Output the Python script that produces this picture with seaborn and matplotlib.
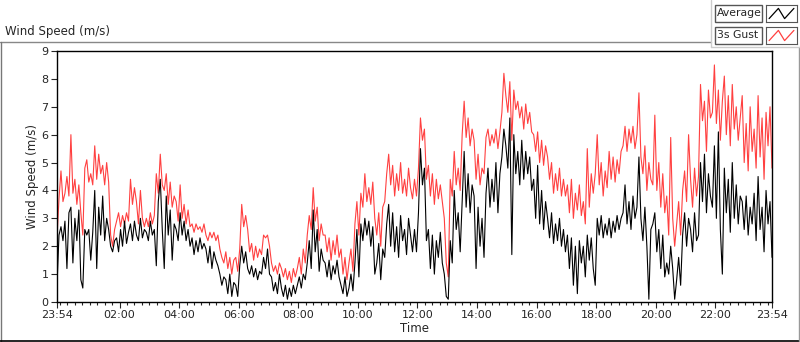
import numpy as np
import pandas as pd
import seaborn as sns
import matplotlib.pyplot as plt
from matplotlib.lines import Line2D
from matplotlib.patches import Rectangle

# 3s gust and average wind speed (m/s), one reading every 4 minutes from 23:54
# (15 readings per row = one hour)
gust = [
    2.3, 3.7, 4.7, 3.6, 3.9, 4.5, 3.8, 6.0, 3.9, 4.4, 3.5, 4.2, 3.2, 2.4, 4.8,
    5.1, 4.3, 4.6, 4.2, 5.6, 4.4, 5.3, 4.6, 4.9, 4.2, 5.0, 4.3, 2.4, 2.0, 2.6,
    2.9, 3.2, 2.7, 3.1, 2.8, 3.2, 2.9, 4.4, 3.5, 4.1, 3.6, 2.8, 4.0, 3.0, 2.7,
    3.0, 2.7, 3.2, 2.8, 3.1, 4.6, 3.9, 5.3, 4.2, 4.0, 4.6, 3.5, 4.3, 3.4, 3.8,
    3.6, 2.9, 4.2, 3.0, 3.5, 2.8, 3.3, 2.7, 2.8, 2.5, 2.8, 2.6, 2.7, 2.5, 2.8,
    2.4, 2.2, 2.5, 2.3, 2.5, 2.2, 2.4, 1.9, 1.6, 1.4, 1.8, 1.2, 1.6, 1.0, 1.5,
    1.6, 1.1, 1.9, 3.5, 2.7, 3.1, 2.6, 1.8, 2.1, 1.5, 2.0, 1.6, 1.9, 1.7, 2.4,
    2.3, 2.4, 2.0, 1.4, 1.1, 1.3, 1.0, 1.4, 1.2, 0.9, 1.2, 0.8, 1.1, 0.7, 1.2,
    0.9, 1.2, 1.6, 1.0, 1.9, 1.4, 2.4, 3.1, 2.6, 4.1, 2.9, 3.4, 2.2, 2.8, 2.4,
    2.4, 1.8, 2.3, 1.5, 2.2, 1.7, 2.4, 1.6, 1.9, 1.0, 1.6, 0.8, 1.4, 1.9, 1.1,
    2.8, 3.6, 2.4, 3.9, 3.4, 4.6, 3.6, 4.1, 3.5, 4.3, 3.0, 2.4, 3.2, 2.0, 3.4,
    3.6, 4.6, 5.3, 4.2, 4.9, 3.8, 4.6, 4.0, 5.0, 3.9, 4.4, 3.8, 4.8, 4.1, 3.7,
    4.4, 3.8, 4.8, 6.6, 5.8, 6.2, 4.4, 4.9, 3.8, 4.6, 3.5, 4.4, 3.7, 4.2, 3.6,
    3.0, 1.4, 0.9, 4.4, 3.8, 5.4, 4.2, 4.8, 4.0, 6.0, 7.2, 5.9, 6.6, 5.6, 6.2,
    5.8, 4.4, 5.3, 4.2, 4.8, 4.6, 5.9, 6.2, 5.6, 6.0, 5.7, 6.2, 5.5, 6.1, 6.8,
    8.2, 7.4, 6.8, 7.9, 5.8, 7.6, 6.9, 7.2, 6.6, 7.0, 6.2, 7.1, 6.4, 6.8, 6.1,
    6.0, 5.4, 6.1, 5.0, 5.8, 4.9, 5.6, 5.2, 4.4, 5.0, 3.9, 4.6, 4.0, 4.8, 3.8,
    4.4, 3.8, 4.2, 3.2, 4.4, 3.0, 3.9, 3.3, 4.2, 3.1, 3.6, 2.8, 5.5, 3.4, 4.6,
    3.9, 4.6, 6.0, 4.2, 5.0, 3.8, 4.7, 4.1, 5.4, 4.4, 5.2, 4.3, 5.1, 4.6, 5.4,
    5.6, 6.3, 5.4, 6.2, 5.7, 6.3, 5.5, 6.0, 7.5, 5.2, 4.6, 5.6, 4.0, 5.0, 4.4,
    4.2, 6.7, 4.0, 5.0, 3.4, 4.6, 3.2, 3.8, 2.4, 5.9, 3.0, 2.0, 2.8, 3.6, 2.4,
    4.0, 4.7, 3.6, 6.0, 4.4, 3.4, 4.8, 3.8, 4.5, 7.8, 6.5, 7.2, 5.4, 7.6, 6.6,
    6.8, 8.5, 6.4, 7.6, 5.8, 7.2, 8.1, 6.0, 7.4, 5.6, 7.8, 6.2, 7.0, 5.8, 6.6,
    7.4, 5.0, 6.4, 4.7, 7.0, 5.4, 6.2, 4.8, 7.4, 5.2, 6.6, 4.4, 6.8, 5.6, 7.0,
    4.8,
]
average = [
    0.6, 2.4, 2.7, 2.2, 2.9, 1.2, 3.2, 3.4, 1.4, 3.0, 2.2, 3.3, 0.8, 0.5, 2.6,
    2.4, 2.6, 1.5, 2.5, 4.0, 1.2, 3.4, 2.4, 3.8, 2.2, 3.0, 2.6, 2.0, 1.8, 2.2,
    2.3, 1.8, 2.6, 2.0, 2.9, 2.1, 2.5, 2.8, 2.2, 2.9, 2.4, 2.2, 3.0, 2.3, 2.6,
    2.5, 2.2, 2.9, 2.4, 2.6, 1.3, 3.6, 4.4, 2.6, 1.2, 3.8, 2.4, 3.3, 1.5, 2.8,
    2.6, 2.2, 3.2, 2.4, 2.9, 2.2, 2.6, 2.0, 2.3, 1.7, 2.2, 1.8, 2.3, 1.9, 2.1,
    1.9, 1.4, 2.0, 1.2, 1.8, 1.5, 1.3, 1.0, 0.6, 0.9, 0.8, 0.3, 1.0, 0.2, 0.7,
    0.6, 0.2, 1.3, 2.0, 1.4, 1.8, 1.2, 1.0, 1.3, 0.9, 1.2, 0.8, 1.1, 1.0, 1.6,
    1.2, 1.9, 1.0, 0.9, 0.4, 0.7, 0.3, 1.0, 0.5, 0.2, 0.6, 0.1, 0.5, 0.2, 0.6,
    0.3, 0.6, 0.9, 0.5, 1.0, 0.8, 1.4, 2.2, 1.2, 3.3, 1.8, 2.6, 1.1, 1.9, 1.5,
    1.4, 0.9, 1.5, 0.8, 1.3, 1.0, 1.5, 0.9, 0.6, 0.3, 0.9, 0.2, 0.5, 1.0, 0.4,
    1.4, 2.6, 0.9, 2.8, 2.2, 3.0, 2.4, 2.9, 2.0, 2.7, 1.0, 1.4, 2.1, 0.8, 1.9,
    1.6, 2.8, 3.5, 2.0, 3.2, 1.8, 2.7, 1.6, 3.1, 2.2, 2.6, 1.7, 3.0, 2.4, 1.8,
    2.6, 1.8, 3.2, 5.5, 4.2, 4.8, 2.2, 2.6, 1.2, 2.4, 1.0, 2.2, 1.6, 2.5, 1.4,
    1.0, 0.2, 0.1, 2.2, 1.4, 4.0, 2.6, 3.2, 1.8, 3.6, 5.4, 3.4, 4.6, 3.2, 4.2,
    3.8, 1.2, 3.4, 2.0, 3.0, 1.6, 3.9, 4.8, 3.4, 4.4, 3.6, 5.0, 3.2, 4.6, 5.2,
    6.2, 5.6, 4.8, 6.6, 1.7, 6.0, 4.6, 5.4, 4.2, 5.8, 4.4, 5.4, 4.6, 5.2, 4.0,
    4.4, 3.0, 4.9, 2.8, 4.0, 2.6, 3.6, 3.0, 2.3, 3.2, 2.1, 2.8, 2.2, 3.0, 2.0,
    2.6, 1.8, 2.4, 1.2, 2.3, 0.6, 2.0, 0.3, 2.2, 1.4, 2.0, 0.9, 2.4, 1.5, 2.3,
    1.2, 0.6, 3.0, 2.4, 3.1, 2.3, 2.8, 2.4, 3.0, 2.3, 2.9, 2.5, 3.1, 2.6, 3.0,
    3.2, 4.2, 2.8, 3.6, 2.6, 3.8, 3.0, 3.4, 5.2, 3.0, 2.2, 3.4, 2.0, 0.1, 2.6,
    2.8, 3.2, 1.8, 2.6, 1.2, 2.4, 0.9, 1.4, 1.0, 2.0, 1.2, 0.1, 0.8, 1.6, 0.6,
    2.4, 3.2, 2.0, 3.0, 2.6, 1.8, 3.2, 2.2, 2.4, 5.0, 3.6, 5.3, 3.2, 4.6, 3.8,
    3.4, 5.6, 3.0, 6.1, 2.6, 1.0, 4.8, 3.2, 4.4, 2.5, 5.0, 3.0, 4.2, 2.8, 3.8,
    3.6, 2.6, 3.8, 2.4, 3.4, 2.8, 3.9, 2.2, 4.5, 2.6, 3.4, 1.8, 4.0, 2.8, 3.6,
    1.6,
]
tick_minutes = [0, 126, 246, 366, 486, 606, 726, 846, 966, 1086, 1206, 1326, 1440]
tick_labels = ['23:54', '02:00', '04:00', '06:00', '08:00', '10:00', '12:00',
               '14:00', '16:00', '18:00', '20:00', '22:00', '23:54']

df_gust = pd.DataFrame({'minute': np.arange(len(gust)) * 4, 'speed': gust, 'series': '3s Gust'})
df_avg = pd.DataFrame({'minute': np.arange(len(average)) * 4, 'speed': average, 'series': 'Average'})
df = pd.concat([df_gust, df_avg], ignore_index=True)

sns.set_style('white')
plt.rcParams['font.family'] = ['DejaVu Sans']
red = '#ff4040'

fig = plt.figure(figsize=(8, 3.42), dpi=100)
ax = fig.add_axes([57 / 800, 1 - 302 / 342, 715 / 800, 251 / 342])
sns.lineplot(data=df, x='minute', y='speed', hue='series',
             hue_order=['3s Gust', 'Average'],
             palette={'3s Gust': red, 'Average': 'black'},
             linewidth=0.8, legend=False, ax=ax)

ax.set_xlim(0, 1440)
ax.set_ylim(0, 9)
ax.set_yticks(range(10))
ax.set_xticks(tick_minutes)
ax.set_xticklabels(tick_labels)
ax.set_xticks(np.arange(6, 1440, 15), minor=True)
ax.tick_params(axis='both', which='major', direction='out', length=4, width=0.8,
               labelsize=8, pad=2, bottom=True, left=True)
ax.tick_params(axis='x', which='minor', direction='out', length=2.5, width=0.8, bottom=True)
for s in ax.spines.values():
    s.set_color('black')
    s.set_linewidth(1)
ax.set_xlabel('Time', fontsize=8.5, labelpad=1)
ax.set_ylabel('Wind Speed (m/s)', fontsize=8.5, labelpad=2)

# panel caption and frame
fig.text(5 / 800, 1 - 32 / 342, 'Wind Speed (m/s)', fontsize=8.5, va='center')
fig.add_artist(Line2D([0, 711 / 800], [1 - 42 / 342] * 2, color='#888888', lw=1))
fig.add_artist(Line2D([0.5 / 800] * 2, [1 - 42 / 342, 1 - 341 / 342], color='#777777', lw=1))
fig.add_artist(Line2D([0, 1], [1 - 341 / 342] * 2, color='black', lw=1.2))
fig.add_artist(Line2D([799 / 800] * 2, [1 - 47 / 342, 1 - 341 / 342], color='#999999', lw=1))
fig.add_artist(Line2D([711 / 800, 1], [1 - 47 / 342] * 2, color='#cccccc', lw=1))
fig.add_artist(Line2D([711 / 800] * 2, [1, 1 - 47 / 342], color='#cccccc', lw=1))

# legend boxes
for row, (name, col) in enumerate([('Average', 'black'), ('3s Gust', red)]):
    y0 = 1 - (22 + row * 22) / 342
    fig.add_artist(Rectangle((715 / 800, y0), 47 / 800, 17 / 342, transform=fig.transFigure,
                             facecolor='white', edgecolor='#555555', lw=1))
    fig.text(717 / 800, y0 + 8.5 / 342, name, fontsize=7.8, va='center')
    gax = fig.add_axes([766 / 800, y0, 31 / 800, 17 / 342])
    gax.plot([0.1, 0.4, 0.6, 0.9], [0.2, 0.8, 0.2, 0.8], color=col, lw=0.9)
    gax.set_xlim(0, 1)
    gax.set_ylim(0, 1)
    gax.set_xticks([])
    gax.set_yticks([])
    for s in gax.spines.values():
        s.set_color('#555555')

fig.savefig('out.png', dpi=100)
